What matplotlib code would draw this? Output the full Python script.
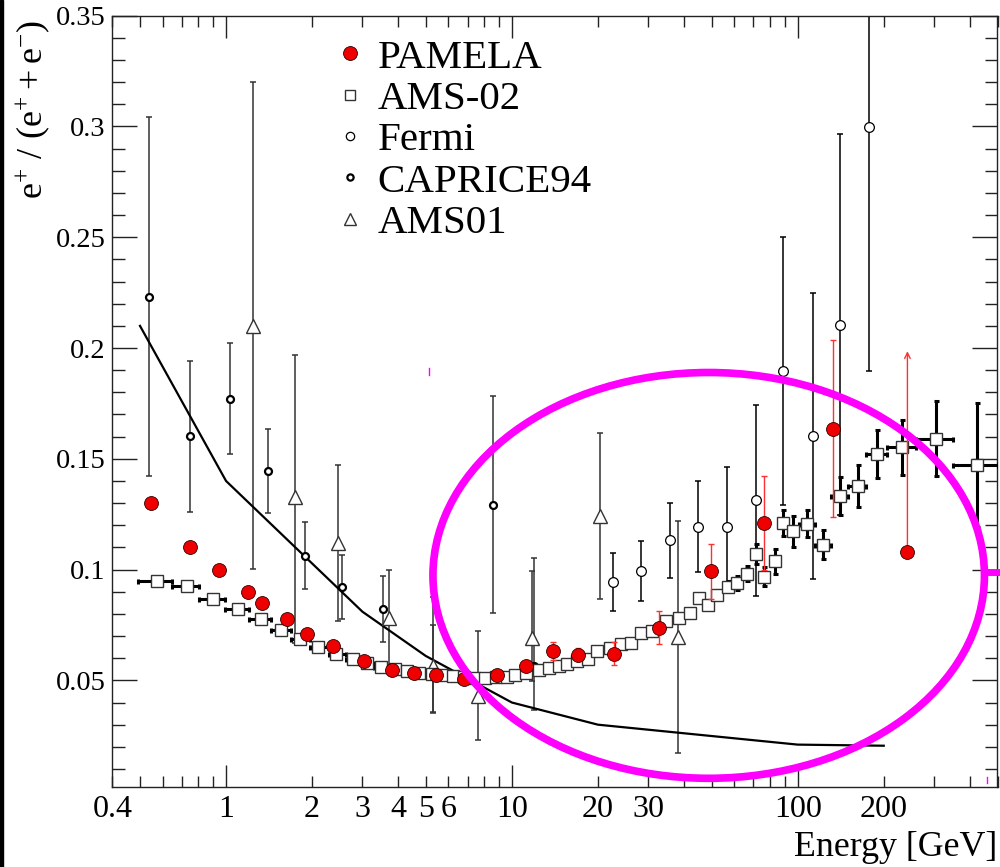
import numpy as np
import matplotlib
matplotlib.use("Agg")
import matplotlib.pyplot as plt
from matplotlib.lines import Line2D
from matplotlib.patches import Ellipse, Rectangle
from matplotlib.ticker import FixedLocator, FuncFormatter

plt.rcParams['font.family'] = ['Liberation Serif', 'DejaVu Serif']
plt.rcParams['mathtext.fontset'] = 'custom'
plt.rcParams['mathtext.rm'] = 'Liberation Serif'
plt.rcParams['mathtext.it'] = 'Liberation Serif'

# ---------------- data ----------------
pamela_E = [0.546, 0.748, 0.942, 1.19, 1.336, 1.63, 1.925, 2.374, 3.05, 3.81, 4.56, 5.43,
            6.82, 8.85, 11.2, 13.9, 17.0, 22.8, 32.6, 49.8, 76.5, 133, 242]
pamela_frac = [0.130, 0.110, 0.100, 0.090, 0.085, 0.0777, 0.0711, 0.0657, 0.0586, 0.0546, 0.0534, 0.0526,
               0.0508, 0.0522, 0.0564, 0.0631, 0.0616, 0.0621, 0.0737, 0.0992, 0.1212, 0.1636, 0.1078]
pamela_err_lo = [0, 0, 0, 0, 0, 0, 0, 0, 0, 0, 0, 0,
                 0, 0, 0, 0.004, 0.003, 0.005, 0.0074, 0.0127, 0.0215, 0.040, 0.0]
pamela_err_hi = [0, 0, 0, 0, 0, 0, 0, 0, 0, 0, 0, 0,
                 0, 0, 0, 0.004, 0.003, 0.005, 0.0074, 0.0124, 0.021, 0.040, 0.092]
pamela_arrow = [False] * 22 + [True]

ams02_E = [0.572, 0.728, 0.903, 1.098, 1.326, 1.557, 1.819, 2.098, 2.424, 2.774,
           3.12, 3.48, 3.9, 4.29, 4.75, 5.25, 5.75, 6.2, 6.8, 7.4, 8.07, 8.8, 9.6,
           10.25, 11.2, 12.4, 13.5, 14.6, 15.6, 16.9, 18.5, 19.8, 22.0, 24.0, 26.2,
           28.2, 30.8, 34.6, 38.4, 41.9, 45.1, 48.6, 52.3, 57.0, 61.3, 66.5, 71.3,
           76.4, 83.0, 88.5, 95.9, 107.9, 123, 141, 162, 189, 232, 304, 425]
ams02_frac = [0.0947, 0.0925, 0.0865, 0.0824, 0.0778, 0.0729, 0.0687, 0.0651, 0.0621, 0.0597,
              0.0578, 0.0561, 0.0550, 0.0541, 0.0535, 0.0530, 0.0524, 0.0518, 0.0514, 0.0511, 0.0511, 0.0513, 0.0517,
              0.0526, 0.0533, 0.0549, 0.0556, 0.0564, 0.0576, 0.0586, 0.0597, 0.0631, 0.0647, 0.0662, 0.0669,
              0.0714, 0.0722, 0.0767, 0.0782, 0.0805, 0.0872, 0.0842, 0.0887, 0.0922, 0.0940, 0.0982, 0.1072,
              0.0967, 0.1037, 0.1211, 0.1173, 0.1208, 0.1113, 0.1331, 0.1379, 0.1522, 0.1552, 0.1591, 0.1474]
ams02_Elo = [0.491, 0.647, 0.802, 0.994, 1.20, 1.44, 1.69, 1.97, 2.29, 2.62,
             2.94, 3.30, 3.70, 4.11, 4.75, 5.25, 5.75, 6.2, 6.8, 7.4, 8.07, 8.8, 9.6,
             10.25, 11.2, 12.4, 13.5, 14.6, 15.6, 16.9, 18.5, 19.8, 22.0, 24.0, 26.2,
             28.2, 30.8, 34.6, 38.4, 41.9, 45.1, 48.6, 52.3, 57.0, 61.3, 66.5, 71.3,
             76.4, 83.0, 85.0, 92.0, 101, 115, 131, 150, 173, 206, 260, 350]
ams02_Ehi = [0.647, 0.802, 0.994, 1.20, 1.44, 1.69, 1.97, 2.29, 2.62, 2.94,
             3.30, 3.70, 4.11, 4.54, 4.75, 5.25, 5.75, 6.2, 6.8, 7.4, 8.07, 8.8, 9.6,
             10.25, 11.2, 12.4, 13.5, 14.6, 15.6, 16.9, 18.5, 19.8, 22.0, 24.0, 26.2,
             28.2, 30.8, 34.6, 38.4, 41.9, 45.1, 48.6, 52.3, 57.0, 61.3, 66.5, 71.3,
             76.4, 83.0, 92.0, 101, 115, 131, 150, 173, 206, 260, 350, 500]
ams02_err = [0.0, 0.0, 0.0, 0.0, 0.0, 0.0, 0.0, 0.0, 0.0, 0.0,
             0.0, 0.0, 0.0, 0.0, 0.0, 0.0, 0.0, 0.0, 0.0, 0.0, 0.0, 0.0, 0.0,
             0.0, 0.0, 0.0, 0.0, 0.0, 0.0, 0.0, 0.0, 0.0, 0.0, 0.0, 0.0,
             0.0, 0.0, 0.0, 0.0, 0.0, 0.002, 0.002, 0.0022, 0.0025, 0.003, 0.0035, 0.0045,
             0.0043, 0.0055, 0.006, 0.007, 0.006, 0.0064, 0.0085, 0.0095, 0.011, 0.0125, 0.0168, 0.028]

fermi_E = [22.5, 28.4, 35.6, 44.9, 56.8, 71.6, 88.7, 112.8, 141, 178]
fermi_frac = [0.0943, 0.0992, 0.1132, 0.1193, 0.1193, 0.1313, 0.1895, 0.1602, 0.2105, 0.2998]
fermi_err = [0.013, 0.0135, 0.017, 0.0205, 0.027, 0.043, 0.0605, 0.0645, 0.086, 0.11]

caprice_E = [0.536, 0.748, 1.033, 1.398, 1.894, 2.54, 3.54, 5.3, 8.6, 11.98]
caprice_frac = [0.2231, 0.1602, 0.1772, 0.1444, 0.1063, 0.0922, 0.0823, 0.0535, 0.1292, 0.0564]
caprice_err_lo = [0.081, 0.034, 0.025, 0.019, 0.015, 0.0145, 0.015, 0.018, 0.049, 0.0196]
caprice_err_hi = [0.081, 0.034, 0.025, 0.019, 0.015, 0.0145, 0.015, 0.034, 0.049, 0.049]

ams01_E = [1.239, 1.744, 2.465, 3.73, 5.28, 7.59, 11.76, 20.4, 38.2]
ams01_frac = [0.2101, 0.1328, 0.1120, 0.0782, 0.0564, 0.0428, 0.0692, 0.1241, 0.0696]
ams01_err_lo = [0.110, 0.066, 0.035, 0.0214, 0.0211, 0.0195, 0.0196, 0.0375, 0.0525]
ams01_err_hi = [0.110, 0.064, 0.035, 0.0214, 0.0188, 0.0294, 0.030, 0.0375, 0.0525]

model_E = [0.5, 1.0, 3.0, 5.0, 10.0, 20.0, 100.0, 200.0]
model_frac = [0.210, 0.140, 0.081, 0.061, 0.040, 0.030, 0.021, 0.0205]

x_tick_vals = [0.4, 1, 2, 3, 4, 5, 6, 10, 20, 30, 100, 200]
x_tick_labels = ['0.4', '1', '2', '3', '4', '5', '6', '10', '20', '30', '100', '200']
y_tick_vals = [0.05, 0.10, 0.15, 0.20, 0.25, 0.30, 0.35]
y_tick_labels = ['0.05', '0.1', '0.15', '0.2', '0.25', '0.3', '0.35']
legend_labels = ['PAMELA', 'AMS-02', 'Fermi', 'CAPRICE94', 'AMS01']

# ---------------- figure ----------------
fig = plt.figure(figsize=(10, 8.67), dpi=100)
ax = fig.add_axes([0.1123, 0.0926, 0.8852, 0.8893])
ax.set_xscale('log')
ax.set_xlim(0.4, 500)
ax.set_ylim(0.002, 0.35)

ecol = '#333333'

# model curve
ax.plot(model_E, model_frac, color='black', lw=1.6, zorder=3)

# AMS01
ax.errorbar(ams01_E, ams01_frac, yerr=[ams01_err_lo, ams01_err_hi], fmt='none',
            ecolor=ecol, elinewidth=1.1, capsize=2.2, capthick=1.1, zorder=2)
ax.plot(ams01_E, ams01_frac, ls='none', marker='^', ms=10, mfc='white', mec=ecol, mew=1.0, zorder=4)

# CAPRICE94
ax.errorbar(caprice_E, caprice_frac, yerr=[caprice_err_lo, caprice_err_hi], fmt='none',
            ecolor=ecol, elinewidth=1.1, capsize=2.2, capthick=1.1, zorder=2)
ax.plot(caprice_E, caprice_frac, ls='none', marker='o', ms=5.0, mfc='white', mec='black', mew=1.6, zorder=4)

# Fermi
ax.errorbar(fermi_E, fermi_frac, yerr=fermi_err, fmt='none',
            ecolor='black', elinewidth=1.1, capsize=2.2, capthick=1.1, zorder=2)
ax.plot(fermi_E, fermi_frac, ls='none', marker='o', ms=7, mfc='white', mec='black', mew=0.9, zorder=4)

# AMS-02
ams_E = np.array(ams02_E)
xl = ams_E - np.array(ams02_Elo)
xh = np.array(ams02_Ehi) - ams_E
vis = (xl + xh) > 0.1 * ams_E
ax.errorbar(ams_E[vis], np.array(ams02_frac)[vis], xerr=[xl[vis], xh[vis]], fmt='none',
            ecolor='black', elinewidth=2.2, capsize=1.8, capthick=2.2, zorder=5)
yv = np.array(ams02_err) > 0
ax.errorbar(ams_E[yv], np.array(ams02_frac)[yv], yerr=np.array(ams02_err)[yv], fmt='none',
            ecolor='black', elinewidth=2.2, capsize=1.8, capthick=2.2, zorder=5)
ax.plot(ams02_E, ams02_frac, ls='none', marker='s', ms=8.5, mfc='white', mec='#333333', mew=1.0, zorder=6)

# PAMELA
pe = np.array(pamela_E)
pf = np.array(pamela_frac)
arr = np.array(pamela_arrow)
ax.errorbar(pe[~arr], pf[~arr], yerr=[np.array(pamela_err_lo)[~arr], np.array(pamela_err_hi)[~arr]],
            fmt='none', ecolor='#ff3030', elinewidth=1.0, capsize=2.2, capthick=1.0, zorder=7)
for e, f, h in zip(pe[arr], pf[arr], np.array(pamela_err_hi)[arr]):
    ax.annotate('', xy=(e, f + h), xytext=(e, f),
                arrowprops=dict(arrowstyle='->', color='#ff3030', lw=1.0, mutation_scale=10),
                zorder=7)
ax.plot(pamela_E, pamela_frac, ls='none', marker='o', ms=10, mfc='#ee0000', mec='#330000', mew=0.6, zorder=8)

# ---------------- axes styling ----------------
for s in ax.spines.values():
    s.set_linewidth(1.0)
    s.set_color('#222222')

major_x = [1, 10, 100]
minor_x = [v * d for d in (0.1, 1, 10, 100) for v in range(2, 10) if 0.4 <= v * d <= 500]
ax.xaxis.set_major_locator(FixedLocator(major_x))
ax.xaxis.set_minor_locator(FixedLocator(minor_x))
lab_map = dict(zip(x_tick_vals, x_tick_labels))
fmt = FuncFormatter(lambda v, p: next((l for t, l in lab_map.items() if abs(t - v) < 1e-6 * max(1, t)), ''))
ax.xaxis.set_major_formatter(fmt)
ax.xaxis.set_minor_formatter(fmt)

ax.yaxis.set_major_locator(FixedLocator(y_tick_vals))
ax.yaxis.set_minor_locator(FixedLocator(np.arange(0.01, 0.35, 0.01)))
ax.set_yticklabels(y_tick_labels)

ax.tick_params(which='both', direction='in', top=True, right=True, width=1.0, color='#222222')
ax.tick_params(axis='x', which='both', labelsize=23)
ax.tick_params(axis='y', which='both', labelsize=20.5)
ax.tick_params(axis='x', which='major', length=16, pad=6)
ax.tick_params(axis='x', which='minor', length=8, pad=6)
ax.tick_params(axis='y', which='major', length=18, pad=5)
ax.tick_params(axis='y', which='minor', length=9, pad=5)

ax.set_xlabel('Energy [GeV]', fontsize=25.8, loc='right')
ax.xaxis.set_label_coords(1.0, -0.057)
ax.set_ylabel(r'$\mathrm{e^{+}\ /\ (e^{+} + e^{-})}$', fontsize=26, loc='top')
ax.yaxis.set_label_coords(-0.0896, 0.994)
ax.yaxis.label.set_va('center')

# legend
handles = [
    Line2D([], [], ls='none', marker='o', ms=10, mfc='#ee0000', mec='#330000', mew=0.6),
    Line2D([], [], ls='none', marker='s', ms=7, mfc='white', mec='#333333', mew=1.0),
    Line2D([], [], ls='none', marker='o', ms=6, mfc='white', mec='black', mew=0.9),
    Line2D([], [], ls='none', marker='o', ms=4.5, mfc='white', mec='black', mew=1.6),
    Line2D([], [], ls='none', marker='^', ms=8, mfc='white', mec=ecol, mew=1.0),
]
ax.legend(handles, legend_labels, loc='upper left', bbox_to_anchor=(0.3305, 0.955),
          bbox_transform=fig.transFigure, frameon=False, fontsize=29.5, handlelength=0.95,
          handletextpad=0.2, labelspacing=0.09, borderpad=0, borderaxespad=0)

# hand-drawn magenta ellipse annotation
fig.add_artist(Ellipse((0.7087, 1 - 575.4 / 867), 0.5515, 405.8 / 867, transform=fig.transFigure,
                       fill=False, edgecolor='#ff00ff', lw=5.5, zorder=20))
fig.add_artist(Line2D([0.985, 1.0], [1 - 571.7 / 867] * 2, transform=fig.transFigure,
                      color='#ff00ff', lw=5.0, solid_capstyle='butt', zorder=20))
fig.add_artist(Line2D([0.4293, 0.4293], [1 - 368 / 867, 1 - 375 / 867], transform=fig.transFigure,
                      color='#ff00ff', lw=1.0, zorder=20))
fig.add_artist(Line2D([0.9867, 0.9867], [1 - 776.7 / 867, 1 - 783.3 / 867], transform=fig.transFigure,
                      color='#ff00ff', lw=1.0, zorder=20))
fig.add_artist(Rectangle((0, 0), 0.003, 1, transform=fig.transFigure, color='black', zorder=30))

fig.savefig('out.png', dpi=100)
